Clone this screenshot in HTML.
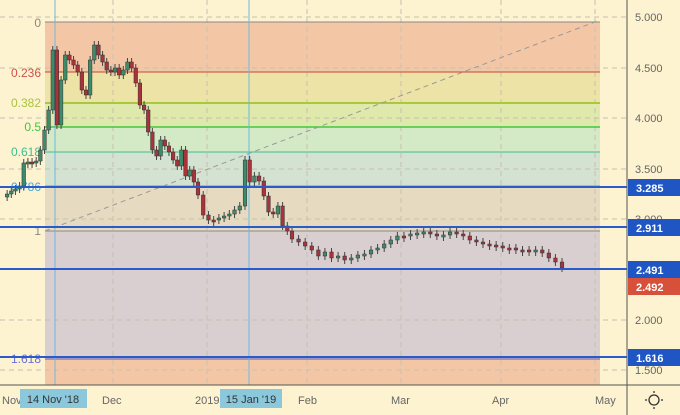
<!DOCTYPE html><html><head><meta charset="utf-8"><style>
body{margin:0;width:680px;height:415px;overflow:hidden;background:#fdf3d0;font-family:"Liberation Sans",sans-serif}
svg{display:block}
</style></head><body>
<svg id="s" width="680" height="415" xmlns="http://www.w3.org/2000/svg" font-family="Liberation Sans, sans-serif">
<rect width="680" height="415" fill="#fdf3d0"/>
<rect x="45" y="22" width="555" height="50" fill="#f3c7a6"/>
<rect x="45" y="72" width="555" height="31" fill="#ede3a6"/>
<rect x="45" y="103" width="555" height="24" fill="#dee9ab"/>
<rect x="45" y="127" width="555" height="25" fill="#d4eac6"/>
<rect x="45" y="152" width="555" height="35" fill="#d3e2d1"/>
<rect x="45" y="187" width="555" height="44" fill="#e6dbc0"/>
<rect x="45" y="231" width="555" height="127" fill="#d9cfd1"/>
<rect x="45" y="358" width="555" height="27" fill="#f3c7a6"/>
<g stroke="#c8c0b0" stroke-dasharray="5,4" stroke-width="1">
<line x1="0" y1="68" x2="627" y2="68"/><line x1="0" y1="118" x2="627" y2="118"/><line x1="0" y1="169" x2="627" y2="169"/><line x1="0" y1="219" x2="627" y2="219"/><line x1="0" y1="269" x2="627" y2="269"/><line x1="0" y1="320" x2="627" y2="320"/><line x1="0" y1="370" x2="627" y2="370"/><line x1="0" y1="17" x2="627" y2="17"/>
<line x1="113" y1="0" x2="113" y2="385"/><line x1="207" y1="0" x2="207" y2="385"/><line x1="307" y1="0" x2="307" y2="385"/><line x1="401" y1="0" x2="401" y2="385"/><line x1="501" y1="0" x2="501" y2="385"/><line x1="595" y1="0" x2="595" y2="385"/>
</g>
<line x1="45" y1="22" x2="600" y2="22" stroke="#888" />
<line x1="45" y1="72" x2="600" y2="72" stroke="#c8473a"/>
<line x1="45" y1="103" x2="600" y2="103" stroke="#a9c93c" stroke-width="2"/>
<line x1="45" y1="127" x2="600" y2="127" stroke="#3ec93e" stroke-width="1.5"/>
<line x1="45" y1="152" x2="600" y2="152" stroke="#3fbf8f"/>
<line x1="45" y1="186" x2="600" y2="186" stroke="#4aa6d6"/>
<line x1="45" y1="231" x2="600" y2="231" stroke="#888"/>
<line x1="45" y1="359" x2="600" y2="359" stroke="#4a60d6"/>
<line x1="45" y1="231" x2="600" y2="20" stroke="#999" stroke-dasharray="5,4"/>
<line x1="55" y1="0" x2="55" y2="385" stroke="#6cb8e0"/>
<line x1="249" y1="0" x2="249" y2="385" stroke="#6cb8e0"/>
<g font-size="12">
<text x="41" y="27" fill="#888" text-anchor="end">0</text>
<text x="41" y="77" fill="#d0504a" text-anchor="end">0.236</text>
<text x="41" y="107" fill="#a8c43a" text-anchor="end">0.382</text>
<text x="41" y="131" fill="#3cc83c" text-anchor="end">0.5</text>
<text x="41" y="156" fill="#3cc090" text-anchor="end">0.618</text>
<text x="41" y="191" fill="#4aa6d6" text-anchor="end">0.786</text>
<text x="41" y="235" fill="#888" text-anchor="end">1</text>
<text x="41" y="363" fill="#6a70d6" text-anchor="end">1.618</text>
</g>
<g id="c"></g>
<g stroke="#2a5bc8" stroke-width="2">
<line x1="0" y1="187" x2="627" y2="187"/><line x1="0" y1="227" x2="627" y2="227"/><line x1="0" y1="269" x2="627" y2="269"/><line x1="0" y1="357" x2="627" y2="357"/>
</g>
<line x1="627" y1="0" x2="627" y2="415" stroke="#555"/>
<line x1="0" y1="385" x2="627" y2="385" stroke="#555"/>
<line x1="627" y1="385" x2="680" y2="385" stroke="#555"/>
<g font-size="11" fill="#666">
<text x="635" y="21">5.000</text><text x="635" y="72">4.500</text><text x="635" y="122">4.000</text><text x="635" y="173">3.500</text><text x="635" y="223">3.000</text><text x="635" y="324">2.000</text><text x="635" y="374">1.500</text>
</g>
<g font-size="11" fill="#fff" font-weight="bold">
<rect x="628" y="179" width="52" height="17" fill="#1f56c4"/><text x="636" y="192">3.285</text>
<rect x="628" y="219" width="52" height="17" fill="#1f56c4"/><text x="636" y="232">2.911</text>
<rect x="628" y="261" width="52" height="17" fill="#1f56c4"/><text x="636" y="274">2.491</text>
<rect x="628" y="278" width="52" height="17" fill="#d6503a"/><text x="636" y="291">2.492</text>
<rect x="628" y="349" width="52" height="17" fill="#1f56c4"/><text x="636" y="362">1.616</text>
</g>
<g font-size="11" fill="#666">
<text x="2" y="404">Nov</text><text x="102" y="404">Dec</text><text x="195" y="404">2019</text><text x="298" y="404">Feb</text><text x="391" y="404">Mar</text><text x="492" y="404">Apr</text><text x="595" y="404">May</text>
</g>
<rect x="20" y="389" width="67" height="19" fill="#8cc8dc"/><text x="53" y="403" font-size="11" fill="#333" text-anchor="middle">14 Nov '18</text>
<rect x="220" y="389" width="62" height="19" fill="#8cc8dc"/><text x="251" y="403" font-size="11" fill="#333" text-anchor="middle">15 Jan '19</text>
<circle cx="654" cy="400" r="5" fill="none" stroke="#333" stroke-width="1.3"/>
<g stroke="#333" stroke-width="1.3"><line x1="654" y1="391" x2="654" y2="393"/><line x1="654" y1="407" x2="654" y2="409"/><line x1="645" y1="400" x2="647" y2="400"/><line x1="661" y1="400" x2="663" y2="400"/></g>
</svg>
<script>
var v=[197,194,191,189,186,163,162,162,161,150,130,110,50,125,80,55,60,65,72,90,95,60,45,55,62,70,72,68,75,70,62,68,83,105,110,132,150,156,140,146,152,160,166,150,176,170,182,195,
215,220,220,218,216,214,210,206,160,182,176,181,196,212,214,206,226,231,239,242,246,250,256,252,258,256,260,258,255,254,250,248,244,240,236,236,234,233,232,234,236,235,232,234,236,240,242,244,245,246,248,248,250,250,252,250,253,258,262,268];
var n=v.length,A=[[0,3],[47,198],[56,245],[66,292],[n-1,562]];
function X(i){for(var k=1;k<A.length;k++){if(i<=A[k][0]){var a=A[k-1],b=A[k];return a[1]+(i-a[0])*(b[1]-a[1])/(b[0]-a[0]);}}}
var g=document.getElementById('c'),h='';
for(var i=1;i<n;i++){var x=X(i),o=v[i-1],c=v[i];var up=c<o;var t=Math.min(o,c),b=Math.max(o,c);if(b-t<2){b=t+2;}
var col=up?'#3f8a68':'#a8333a';h+='<line x1="'+x+'" x2="'+x+'" y1="'+(t-4)+'" y2="'+(b+4)+'" stroke="#444" stroke-width="1"/>';
h+='<rect x="'+(x-1.8)+'" y="'+t+'" width="3.6" height="'+(b-t)+'" fill="'+col+'" stroke="#333" stroke-width="0.5"/>';}
g.innerHTML=h;
</script>
</body></html>
